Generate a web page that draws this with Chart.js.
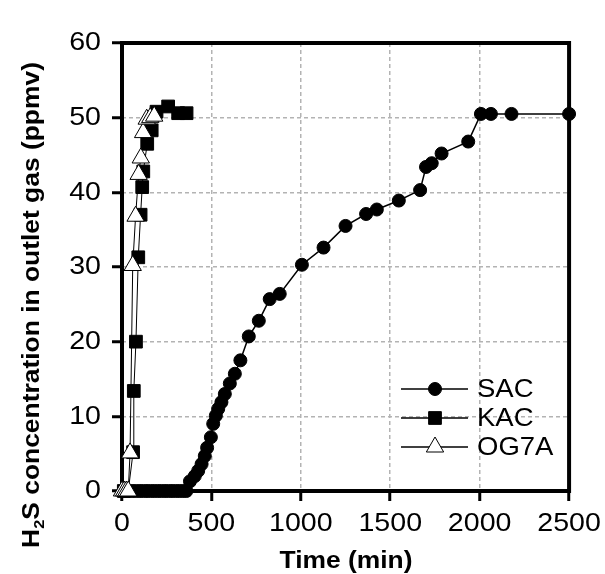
<!DOCTYPE html>
<html lang="en">
  <head>
    <meta charset="utf-8" />
    <title>H2S breakthrough curves</title>
    <style>
      * {
        margin: 0;
        padding: 0;
      }
      body {
        background: #fff;
      }
      .chartBox {
        width: 605px;
        height: 574px;
      }
    </style>
  </head>
  <body>
    <div class="chartBox">
      <canvas id="myChart"></canvas>
    </div>

    <script src="https://cdn.jsdelivr.net/npm/chart.js@4.4.1/dist/chart.umd.min.js"></script>

    <script>
      // data (time in min, H2S in ppmv)
      const sacTime = [80, 100, 120, 140, 160, 180, 200, 220, 240, 260, 280, 300, 320, 340, 360,
        380, 407, 426, 445, 463, 476, 497, 510, 525, 538, 556, 575, 603, 631, 662, 709, 765, 826, 882,
        1006, 1127, 1250, 1365, 1425, 1548, 1667, 1700, 1732, 1787, 1936, 2007, 2063, 2178, 2500];
      const sacConc = [0, 0, 0, 0, 0, 0, 0, 0, 0, 0, 0, 0, 0, 0, 0,
        1.3, 2.0, 2.7, 3.6, 4.7, 5.8, 7.2, 9.0, 10.1, 11.0, 11.9, 13.0, 14.4, 15.7, 17.5, 20.7, 22.8, 25.7, 26.4,
        30.3, 32.6, 35.5, 37.1, 37.7, 38.9, 40.3, 43.4, 43.9, 45.2, 46.8, 50.5, 50.5, 50.5, 50.5];

      const kacTime = [10, 35, 62, 66, 78, 91, 104, 113, 119, 141, 166, 193, 258, 314, 361];
      const kacConc = [0, 0, 5.2, 13.4, 20.0, 31.3, 37.0, 40.7, 42.8, 46.5, 48.3, 50.8, 51.5, 50.6, 50.6];

      const ogTime = [0, 12, 24, 35, 45, 60, 76, 93, 105, 118, 138, 158, 180];
      const ogConc = [0, 0, 0, 0, 5.1, 30.2, 36.8, 42.4, 44.6, 48.0, 49.8, 50.0, 50.2];

      const seriesNames = ["SAC", "KAC", "OG7A"];
      const xTicks = [0, 500, 1000, 1500, 2000, 2500];
      const yTicks = [0, 10, 20, 30, 40, 50, 60];

      const FONT = '"Liberation Sans", Arial, sans-serif';
      const TEXT_STRETCH = 1.1; // the original lettering is a bit wider than Arial

      const toPoints = (xs, ys) => xs.map((x, i) => ({ x: x, y: ys[i] }));

      // marker look, shared by the datasets and the legend
      const markers = [
        { style: "circle", radius: 6.5, fill: "#000" },
        { style: "rect", radius: 9, fill: "#000" },
        { style: "triangle", radius: 10, fill: "#fff" },
      ];

      // stretch every text draw horizontally around its anchor
      const wideText = {
        id: "wideText",
        beforeDraw(chart) {
          const ctx = chart.ctx;
          if (ctx.plainFillText) return;
          ctx.plainFillText = ctx.fillText;
          ctx.fillText = function (text, x, y) {
            this.save();
            this.translate(x, y);
            this.scale(TEXT_STRETCH, 1);
            this.plainFillText(text, 0, 0);
            this.restore();
          };
        },
      };

      // solid axis box round the plot area
      const frame = {
        id: "frame",
        beforeDatasetsDraw(chart) {
          const { ctx, chartArea: a } = chart;
          ctx.save();
          ctx.setLineDash([]);
          ctx.strokeStyle = "#000";
          ctx.lineWidth = 4;
          ctx.lineJoin = "miter";
          ctx.beginPath();
          ctx.moveTo(a.left, a.bottom);
          ctx.lineTo(a.left, a.top);
          ctx.lineTo(a.right, a.top);
          ctx.lineTo(a.right, a.bottom);
          ctx.closePath();
          ctx.stroke();
          ctx.restore();
        },
      };

      const titles = {
        id: "titles",
        afterDraw(chart) {
          const ctx = chart.ctx;
          ctx.save();
          ctx.fillStyle = "#000";

          // x title
          ctx.font = "bold 24px " + FONT;
          ctx.textAlign = "center";
          ctx.textBaseline = "alphabetic";
          ctx.fillText("Time (min)", 346, 568);

          // y title with subscript 2
          ctx.translate(32, 305);
          ctx.rotate(-Math.PI / 2);
          ctx.textAlign = "left";
          ctx.textBaseline = "middle";
          const big = "bold 24px " + FONT;
          const small = "bold 15px " + FONT;
          const rest = "S concentration in outlet gas (ppmv)";
          ctx.font = big;
          const wH = ctx.measureText("H").width * TEXT_STRETCH;
          const wRest = ctx.measureText(rest).width * TEXT_STRETCH;
          ctx.font = small;
          const w2 = ctx.measureText("2").width * TEXT_STRETCH;
          let x = -(wH + w2 + wRest) / 2;
          ctx.font = big;
          ctx.fillText("H", x, 0);
          x += wH;
          ctx.font = small;
          ctx.fillText("2", x, 8);
          x += w2;
          ctx.font = big;
          ctx.fillText(rest, x, 0);
          ctx.restore();
        },
      };

      const drawMarker = (ctx, m, x, y) => {
        ctx.beginPath();
        if (m.style === "circle") {
          ctx.arc(x, y, m.radius, 0, Math.PI * 2);
        } else if (m.style === "rect") {
          const s = m.radius * Math.SQRT1_2;
          ctx.rect(x - s, y - s, 2 * s, 2 * s);
        } else {
          const w = m.radius * Math.sin(Math.PI / 3);
          ctx.moveTo(x, y - m.radius);
          ctx.lineTo(x + w, y + m.radius / 2);
          ctx.lineTo(x - w, y + m.radius / 2);
          ctx.closePath();
        }
        ctx.fillStyle = m.fill;
        ctx.fill();
        ctx.lineWidth = 1;
        ctx.strokeStyle = "#000";
        ctx.stroke();
      };

      const legendBox = {
        id: "legendBox",
        afterDraw(chart) {
          const ctx = chart.ctx;
          const rows = [389, 418, 447];
          ctx.save();
          ctx.setLineDash([]);
          ctx.font = "25px " + FONT;
          ctx.textAlign = "left";
          ctx.textBaseline = "middle";
          seriesNames.forEach((name, i) => {
            const y = rows[i];
            ctx.strokeStyle = "#000";
            ctx.lineWidth = 1.5;
            ctx.beginPath();
            ctx.moveTo(401, y);
            ctx.lineTo(468, y);
            ctx.stroke();
            drawMarker(ctx, markers[i], 435, y);
            ctx.fillStyle = "#000";
            ctx.fillText(name, 477, y + 1);
          });
          ctx.restore();
        },
      };

      const makeSet = (i, xs, ys, order) => ({
        label: seriesNames[i],
        data: toPoints(xs, ys),
        showLine: true,
        borderColor: "#000",
        borderWidth: i === 0 ? 1.5 : 1,
        pointStyle: markers[i].style,
        pointRadius: markers[i].radius,
        pointHoverRadius: markers[i].radius,
        pointBackgroundColor: markers[i].fill,
        pointBorderColor: "#000",
        pointBorderWidth: 1,
        clip: false,
        order: order,
      });

      const gridColor = (max) => (c) =>
        c.tick && (c.tick.value === 0 || c.tick.value === max) ? "rgba(0,0,0,0)" : "#b3b3b3";

      const data = {
        datasets: [
          makeSet(0, sacTime, sacConc, 3),
          makeSet(1, kacTime, kacConc, 2),
          makeSet(2, ogTime, ogConc, 1),
        ],
      };

      const config = {
        type: "scatter",
        data: data,
        options: {
          responsive: true,
          maintainAspectRatio: false,
          animation: false,
          events: [],
          layout: { padding: { top: 43, right: 35, left: 0, bottom: 0 } },
          plugins: { legend: { display: false }, tooltip: { enabled: false } },
          scales: {
            x: {
              type: "linear",
              min: xTicks[0],
              max: xTicks[xTicks.length - 1],
              afterBuildTicks: (s) => (s.ticks = xTicks.map((v) => ({ value: v }))),
              afterFit: (s) => (s.height = 83),
              grid: {
                color: gridColor(2500),
                lineWidth: 1.5,
                tickLength: 10,
                tickWidth: 3,
                tickColor: "#000",
                tickBorderDash: [],
              },
              border: { display: false, dash: [4, 3] },
              ticks: {
                color: "#000",
                padding: 7,
                maxRotation: 0,
                font: { family: FONT, size: 26 },
                callback: (v) => String(v),
              },
            },
            y: {
              type: "linear",
              min: yTicks[0],
              max: yTicks[yTicks.length - 1],
              afterBuildTicks: (s) => (s.ticks = yTicks.map((v) => ({ value: v }))),
              afterFit: (s) => (s.width = 122),
              grid: {
                color: gridColor(60),
                lineWidth: 1.5,
                tickLength: 10,
                tickWidth: 3,
                tickColor: "#000",
                tickBorderDash: [],
              },
              border: { display: false, dash: [4, 3] },
              ticks: {
                color: "#000",
                padding: 11,
                font: { family: FONT, size: 26 },
                callback: (v) => String(v),
              },
            },
          },
        },
        plugins: [wideText, frame, titles, legendBox],
      };

      const myChart = new Chart(document.getElementById("myChart"), config);
    </script>
  </body>
</html>
